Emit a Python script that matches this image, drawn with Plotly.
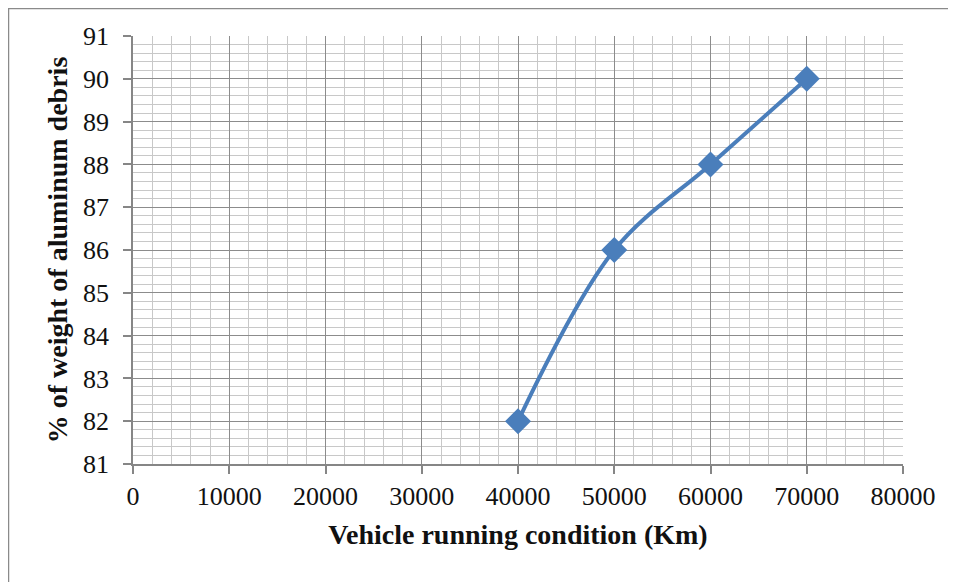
"""Aluminum debris weight vs. vehicle running condition."""

import plotly.graph_objects as go

running_km = [40000, 50000, 60000, 70000]
aluminum_pct = [82, 86, 88, 90]

# the page body adds an 8px margin, so the figure starts at (8, 8) on screen
OFF = 8
W, H = 956 - OFF, 582 - OFF
L, R, T, B = 133 - OFF, 956 - 903, 36 - OFF, 582 - 464
pw, ph = W - L - R, H - T - B


def px_x(v):
    return (v - OFF - L) / pw


def px_y(v):
    return (H - B - (v - OFF)) / ph


FONT = "Liberation Serif, Times New Roman, serif"

fig = go.Figure()
fig.add_trace(
    go.Scatter(
        x=running_km,
        y=aluminum_pct,
        mode="lines+markers",
        line=dict(color="#4A7EBB", width=4, shape="spline", smoothing=1),
        marker=dict(symbol="diamond", size=20, color="#4A7EBB"),
        showlegend=False,
    )
)

axis_common = dict(
    showline=True,
    linecolor="#868686",
    linewidth=1.5,
    ticks="outside",
    ticklen=8,
    tickcolor="#868686",
    tickwidth=1.5,
    gridcolor="#8c8c8c",
    gridwidth=1,
    zeroline=False,
    tickfont=dict(family=FONT, size=26, color="#111"),
)

fig.update_xaxes(
    range=[0, 80000],
    dtick=10000,
    tickformat="d",
    minor=dict(dtick=2000, showgrid=True, gridcolor="#c8c8c8", gridwidth=1),
    title=dict(text="<b>Vehicle running condition (Km)</b>", font=dict(family=FONT, size=28, color="#111"), standoff=14),
    **axis_common,
)
fig.update_yaxes(
    range=[81, 91],
    dtick=1,
    ticklabelstandoff=9,
    minor=dict(dtick=0.2, showgrid=True, gridcolor="#c8c8c8", gridwidth=1),
    title=dict(text="<b>% of weight of aluminum debris</b>", font=dict(family=FONT, size=28, color="#111"), standoff=7),
    **axis_common,
)

fig.update_layout(
    width=W,
    height=H,
    margin=dict(l=L, r=R, t=T, b=B, autoexpand=False),
    paper_bgcolor="white",
    plot_bgcolor="white",
    shapes=[
        dict(
            type="rect",
            xref="paper",
            yref="paper",
            x0=px_x(8),
            x1=px_x(W + 30),
            y0=px_y(H + 30),
            y1=px_y(8),
            line=dict(color="#8a8a8a", width=2.5),
            layer="below",
        )
    ],
)

fig.write_html("out.html")
